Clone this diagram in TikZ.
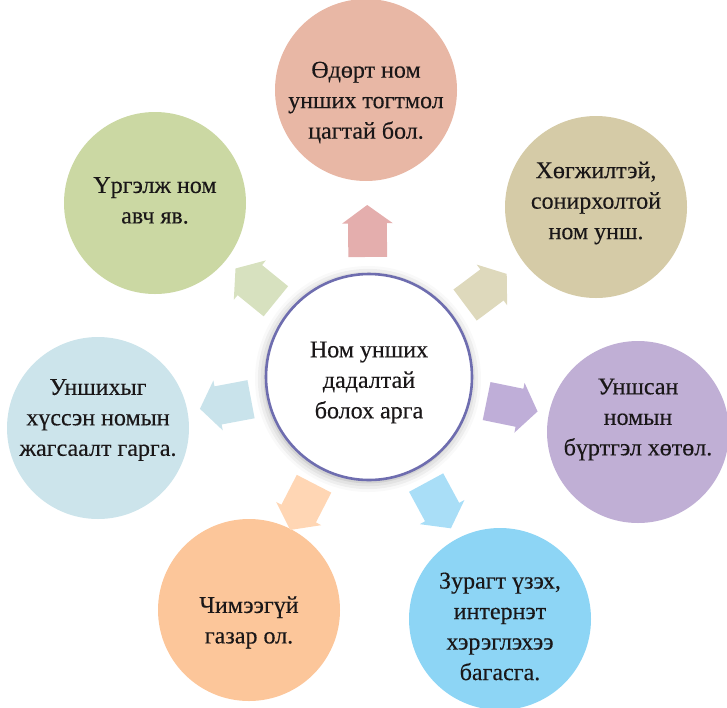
\documentclass[tikz,border=0pt]{standalone}
\usepackage{fontspec}
\setmainfont{Liberation Serif}
\usetikzlibrary{calc,shapes.arrows,shadows.blur}
\definecolor{inkgray}{HTML}{1A1718}
\definecolor{hubring}{HTML}{6E6DAF}
\definecolor{tipA}{HTML}{E8B7A5}\definecolor{arrA}{HTML}{E4AEAD}
\definecolor{tipB}{HTML}{D5CBA7}\definecolor{arrB}{HTML}{DED9BC}
\definecolor{tipC}{HTML}{C0AFD5}\definecolor{arrC}{HTML}{BFAED8}
\definecolor{tipD}{HTML}{8DD5F5}\definecolor{arrD}{HTML}{A9DEF7}
\definecolor{tipE}{HTML}{FCC69A}\definecolor{arrE}{HTML}{FFD6B4}
\definecolor{tipF}{HTML}{CCE4EB}\definecolor{arrF}{HTML}{C9E3EB}
\definecolor{tipG}{HTML}{CBD8A3}\definecolor{arrG}{HTML}{D7E1BF}
\tikzset{
 habit tip/.style={circle,minimum size=91pt,inner sep=0pt},
 habit text/.style={align=center,inner sep=0pt,text=inkgray,
                    font=\rmfamily\fontsize{12}{15.25}\selectfont\addfontfeature{FakeBold=0.3}},
 habit hub/.style={circle,draw=hubring,line width=1.3pt,fill=white,
                   minimum size=103pt,inner sep=0pt,
                   blur shadow={shadow xshift=-0.5pt,shadow yshift=-1pt,
                                shadow blur radius=5pt,shadow opacity=35}},
 habit arrow/.style={single arrow,minimum height=26pt,inner xsep=0pt,
                     inner ysep=9.5pt,single arrow head extend=3pt,
                     single arrow tip angle=108,sloped,allow upside down}
}
\begin{document}
\begin{tikzpicture}[x=0.5pt,y=-0.5pt]
 \useasboundingbox (0,0) rectangle (727,707);

 \node[habit hub] (hub) at (369,377) {};
 \node[habit text] (hubtext) at ([yshift=-2.75pt]hub.center) {Ном унших\\дадалтай\\болох арга};

 \node[habit tip,fill=tipA] (tipA) at (366,90)  {};
 \node[habit tip,fill=tipB] (tipB) at (596,207) {};
 \node[habit tip,fill=tipC] (tipC) at (638,432) {};
 \node[habit tip,fill=tipD] (tipD) at (500,619) {};
 \node[habit tip,fill=tipE] (tipE) at (249,610) {};
 \node[habit tip,fill=tipF] (tipF) at (98,428)  {};
 \node[habit tip,fill=tipG] (tipG) at (155,203) {};

 \node[habit text] (txtA) at ([yshift=-6.25pt]tipA.center) {Өдөрт ном\\унших тогтмол\\цагтай бол.};
 \node[habit text] (txtB) at ([yshift=2pt]tipB.center) {Хөгжилтэй,\\сонирхолтой\\ном унш.};
 \node[habit text] (txtC) at ([yshift=6.25pt]tipC.center) {Уншсан\\номын\\бүртгэл хөтөл.};
 \node[habit text] (txtD) at ([yshift=-3.75pt]tipD.center) {Зурагт үзэх,\\интернэт\\хэрэглэхээ\\багасга.};
 \node[habit text] (txtE) at ([yshift=-6.25pt]tipE.center) {Чимээгүй\\газар ол.};
 \node[habit text] (txtF) at ([yshift=4pt]tipF.center) {Уншихыг\\хүссэн номын\\жагсаалт гарга.};
 \node[habit text] (txtG) at ([yshift=1.25pt]tipG.center) {Үргэлж ном\\авч яв.};

 % block arrows from the hub out to each tip
 \foreach \t in {A,...,G}
   \path (hub.center) -- node[habit arrow,pos=1,fill=arr\t] (arr\t) {}
         ($(hub.center)!69.5pt!(tip\t.center)$);
\end{tikzpicture}
\end{document}
